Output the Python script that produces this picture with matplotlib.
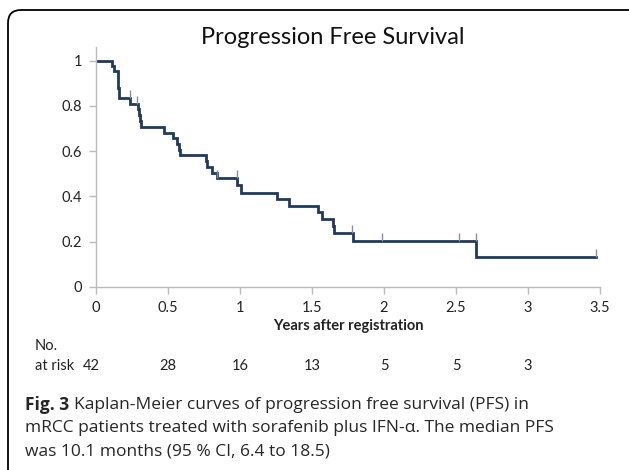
import numpy as np
import matplotlib.pyplot as plt
from matplotlib.patches import FancyBboxPatch
from matplotlib.transforms import IdentityTransform, blended_transform_factory

# Kaplan-Meier steps (years, survival after the drop)
event_t = [0.108, 0.127, 0.150, 0.158, 0.237, 0.290, 0.297, 0.304, 0.312,
           0.472, 0.537, 0.560, 0.575, 0.585, 0.765, 0.770, 0.803, 0.838,
           0.980, 1.007, 1.259, 1.342, 1.539, 1.567, 1.643, 1.650, 1.782, 2.641]
event_s = [0.976, 0.952, 0.881, 0.833, 0.810, 0.786, 0.758, 0.733, 0.707,
           0.680, 0.656, 0.632, 0.607, 0.582, 0.556, 0.530, 0.505, 0.481,
           0.451, 0.417, 0.389, 0.358, 0.330, 0.299, 0.270, 0.240, 0.2035, 0.134]
end_t = 3.47

# censored observations
cens_t = [0.236, 0.287, 0.842, 0.977, 1.780, 1.988, 2.521, 2.638, 3.47]
cens_s = [0.833, 0.810, 0.481, 0.481, 0.240, 0.2035, 0.2035, 0.2035, 0.134]

risk_t = [0, 0.5, 1, 1.5, 2, 2.5, 3]
risk_n = [42, 28, 16, 13, 5, 5, 3]

xticks = [0, 0.5, 1, 1.5, 2, 2.5, 3, 3.5]
xtick_labels = ['0', '0.5', '1', '1.5', '2', '2.5', '3', '3.5']
yticks = [0, 0.2, 0.4, 0.6, 0.8, 1]
ytick_labels = ['0', '0.2', '0.4', '0.6', '0.8', '1']

caption = ['Kaplan-Meier curves of progression free survival (PFS) in',
           'mRCC patients treated with sorafenib plus IFN-α. The median PFS',
           'was 10.1 months (95 % CI, 6.4 to 18.5)']

W, H = 629, 470
fig = plt.figure(figsize=(W / 100, H / 100), dpi=100)
plt.rcParams['font.family'] = ['Lato', 'DejaVu Sans']

ax = fig.add_axes([96 / W, 1 - 287 / H, 504 / W, (287 - 47) / H])

# step curve
t = np.concatenate([[0], event_t, [end_t]])
s = np.concatenate([[1], event_s, [event_s[-1]]])
ax.step(t, s, where='post', color='#203A5C', lw=2, solid_joinstyle='miter')
ax.vlines(cens_t, cens_s, np.array(cens_s) + 0.035, color='#8090A8', lw=1)

ax.set_xlim(0, 3.5)
ax.set_ylim(0, 1.06)
ax.set_xticks(xticks)
ax.set_xticklabels(xtick_labels)
ax.set_yticks(yticks)
ax.set_yticklabels(ytick_labels)
for sp in ['top', 'right']:
    ax.spines[sp].set_visible(False)
for sp in ['left', 'bottom']:
    ax.spines[sp].set_color('#BBBBBB')
    ax.spines[sp].set_linewidth(1)
ax.tick_params(colors='#BBBBBB', labelcolor='#222222', labelsize=10.5,
               length=5, width=1, pad=5)
ax.set_xlabel('Years after registration', fontsize=10.5, fontweight='bold',
              color='#222222', labelpad=3)

fig.text(333 / W, 1 - 37 / H, 'Progression Free Survival', fontsize=17,
         ha='center', va='center', color='#111111')

# number at risk
fig.text(35 / W, 1 - 346 / H, 'No.', fontsize=10.5, va='center', color='#222222')
fig.text(35 / W, 1 - 366 / H, 'at risk', fontsize=10.5, va='center', color='#222222')
tr = blended_transform_factory(ax.transData, fig.transFigure)
for xt, n in zip(risk_t, risk_n):
    fig.text(xt if xt > 0 else -0.03, 1 - 366 / H, str(n), transform=tr,
             fontsize=10.5, ha='center', va='center', color='#222222')

# caption
cap_kw = dict(fontsize=12.5, va='center', color='#262626',
              family=['Open Sans', 'DejaVu Sans'])
fig_lbl = fig.text(25 / W, 1 - 405 / H, 'Fig. 3', fontweight='bold', **cap_kw)
fig.canvas.draw()
bb = fig_lbl.get_window_extent()
fig.text((bb.x1 + 5) / W, 1 - 405 / H, caption[0], **cap_kw)
fig.text(25 / W, 1 - 428 / H, caption[1], **cap_kw)
fig.text(25 / W, 1 - 451 / H, caption[2], **cap_kw)

# rounded frame, right side runs off the picture
box = FancyBboxPatch((8, -40), 640, H - 10 + 40, boxstyle='round,pad=0,rounding_size=13',
                     transform=IdentityTransform(), fill=False, ec='black', lw=1.3)
fig.patches.append(box)

fig.savefig('out.png', dpi=100)
